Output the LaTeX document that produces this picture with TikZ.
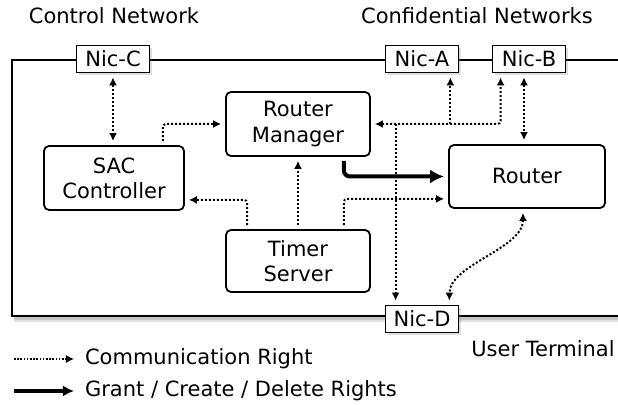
\documentclass[tikz,border=0pt]{standalone}
\usepackage{fontspec}
\setmainfont{DejaVu Sans}
\usetikzlibrary{arrows.meta}
\usetikzlibrary{shadows}

\tikzset{
  proc/.style={draw,line width=0.9pt,rounded corners=2.5pt,fill=white,align=center,inner sep=0pt},
  nic/.style={draw,line width=0.9pt,fill=white,inner sep=0pt,minimum width=36.5pt,minimum height=13.5pt,
    drop shadow={shadow xshift=1.2pt,shadow yshift=-1.2pt,opacity=0.25}},
  comm/.style={line width=1pt,dash pattern=on 1pt off 1pt,rounded corners=1.5pt,
    -{Latex[length=4pt,width=4pt]},shorten >=2pt,shorten <=2pt},
  commboth/.style={comm,{Latex[length=4pt,width=4pt]}-{Latex[length=4pt,width=4pt]}},
  grant/.style={line width=2pt,rounded corners=3pt,-{Latex[length=7pt,width=7pt]},shorten >=2pt,shorten <=2pt},
}

\begin{document}
\begin{tikzpicture}[x=0.5pt,y=-0.5pt,font=\fontsize{10.5}{12.6}\selectfont]

\useasboundingbox (0,0) rectangle (618,405);

% system frame (runs off the right edge)
\fill[black!12] (14,62) rectangle (660,322);
\fill[black!22] (14,62) rectangle (660,320);
\draw[line width=1.2pt,fill=white] (12,60) rectangle (660,316);

\node at (114,16) (ctrl){Control Network};
\node at (477,16) (conf){Confidential Networks};
\node at (543,349) (user){User Terminal};

\node[nic] at (113,59) (nicC){Nic-C};
\node[nic] at (422,59) (nicA){Nic-A};
\node[nic] at (529,59) (nicB){Nic-B};
\node[nic] at (422,319) (nicD){Nic-D};

\node[proc,minimum width=72pt,minimum height=32pt] at (298,124) (rm){Router\\Manager};
\node[proc,minimum width=70pt,minimum height=32pt] at (114,178) (sac){SAC\\Controller};
\node[proc,minimum width=78pt,minimum height=31.5pt] at (527,176.5) (rt){Router};
\node[proc,minimum width=72pt,minimum height=31pt] at (298,261) (ts){Timer\\Server};

\coordinate (pa) at ([xshift=-4.5pt]nicA.south east);
\coordinate (pb) at ([xshift=4.5pt]nicB.south west);
\coordinate (pd) at ([xshift=5.5pt]nicD.north west);
\coordinate (pe) at ([xshift=-5pt]nicD.north east);

\draw[commboth] (nicC.south) -- (nicC.south |- sac.north);
\draw[comm] ([xshift=-11pt]sac.north east) |- (rm.west);
\draw[commboth] (rm.east) -| (pb);
\draw[comm,shorten <=0pt] (pa |- rm.east) -- (pa);
\draw[comm,shorten <=0pt] (pd |- rm.east) -- (pd);
\draw[commboth] ([xshift=-2.5pt]nicB.south) -- ([xshift=-2.5pt]nicB.south |- rt.north);

\draw[grant] ([xshift=-13.5pt]rm.south east) |- (rt.west);

\draw[comm] ([xshift=11pt]ts.north west) |- ([yshift=5.5pt]sac.south east);
\draw[comm] (ts.north) -- (rm.south);
\draw[comm] ([xshift=-13.5pt]ts.north east) |- ([yshift=5pt]rt.south west);
\draw[commboth] ([xshift=-2pt]rt.south) .. controls +(0,40) and +(0,-40) .. (pe);

% legend
\node[anchor=west] at (78,359) (lcomm){Communication Right};
\node[anchor=west] at (78,391) (lgrant){Grant / Create / Delete Rights};
\draw[comm,shorten <=0pt,line width=0.6pt,dash pattern=on 0.8pt off 0.8pt] (14,359) -- (lcomm.west);
\draw[grant,shorten <=0pt,-{Latex[length=5.5pt,width=5.5pt]}] (14,391) -- (lgrant.west);

\end{tikzpicture}
\end{document}
